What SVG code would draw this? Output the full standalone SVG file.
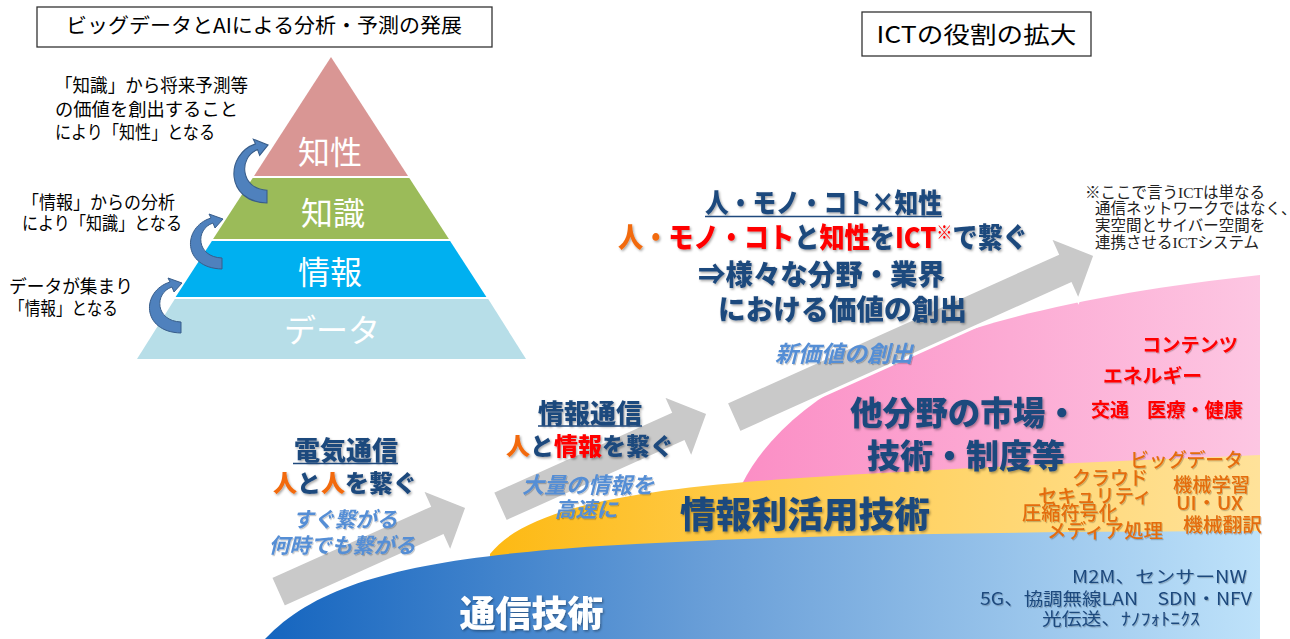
<svg xmlns="http://www.w3.org/2000/svg" width="1290" height="639" viewBox="0 0 1290 639">
<defs>
<linearGradient id="gBlue" gradientUnits="userSpaceOnUse" x1="265" y1="0" x2="1260" y2="0">
<stop offset="0" stop-color="#1565BF"/>
<stop offset="0.45" stop-color="#6A9FD8"/>
<stop offset="1" stop-color="#BEE2FA"/>
</linearGradient>
<linearGradient id="gOrange" gradientUnits="userSpaceOnUse" x1="490" y1="0" x2="1260" y2="0">
<stop offset="0" stop-color="#FDB913"/>
<stop offset="0.35" stop-color="#FFCC4D"/>
<stop offset="1" stop-color="#FFE29A"/>
</linearGradient>
<linearGradient id="gPink" gradientUnits="userSpaceOnUse" x1="742" y1="0" x2="1260" y2="0">
<stop offset="0" stop-color="#FB8EC5"/>
<stop offset="1" stop-color="#FDC6E2"/>
</linearGradient>
<filter id="sh" x="-10%" y="-30%" width="130%" height="160%">
<feDropShadow dx="1.2" dy="1.5" stdDeviation="0.8" flood-color="#000" flood-opacity="0.35"/>
</filter>
<filter id="sh2" x="-10%" y="-30%" width="130%" height="160%">
<feDropShadow dx="1" dy="1.2" stdDeviation="0.7" flood-color="#000" flood-opacity="0.22"/>
</filter>
<path id="curl" d="M 0,0 C -40,-1 -40,-42 -11,-51 L -13,-55 L 1,-50 L -7,-41 L -9,-46 C -27,-40 -26,-12 0,-11 Z"/>
</defs>
<style>
text{font-family:"Noto Sans CJK JP","Noto Sans",sans-serif}
.h{font-weight:900;fill:#1F497D}
.o{fill:#F26A10}
.r{fill:#FF0000}
.it{font-style:italic;font-weight:700;fill:#558ED5}
.pyr{fill:#fff;font-size:32px;text-anchor:middle}
.side{font-size:18.5px;fill:#000}
.red{font-size:19px;font-weight:700;fill:#FF0000}
.org{font-size:19px;font-weight:500;fill:#E46C0A}
.blu{font-size:17.5px;font-weight:400;fill:#1F497D}
.note{font-family:"Liberation Serif","Noto Sans CJK JP",serif;font-size:15.5px;fill:#222}
.gray{fill:#C9C9C9;stroke:#fff;stroke-width:3}
.curl{fill:#4F81BD;stroke:#385D8A;stroke-width:1}
.box{fill:#fff;stroke:#333;stroke-width:1.3}
.ul{stroke:#1F497D;stroke-width:1.6}
</style>
<rect x="0" y="0" width="1290" height="639" fill="#fff"/>

<g id="title-left">
<rect class="box" x="37" y="7" width="455" height="40"/>
<text x="264" y="33" font-size="20.5" text-anchor="middle" fill="#000" textLength="396" lengthAdjust="spacingAndGlyphs">ビッグデータとAIによる分析・予測の発展</text>
</g>
<g id="title-right">
<rect class="box" x="862" y="12" width="229" height="44"/>
<text x="976.5" y="43" font-size="23" text-anchor="middle" fill="#000" textLength="200" lengthAdjust="spacingAndGlyphs">ICTの役割の拡大</text>
</g>

<g id="pyramid">
<g id="layer-chisei">
<polygon points="331,57 408,176 254,176" fill="#D99694"/>
<text class="pyr" x="330" y="164">知性</text>
</g>
<g id="layer-chishiki">
<polygon points="252.7,178 409.3,178 448.9,239 213.1,239" fill="#9BBB59"/>
<text class="pyr" x="333" y="225">知識</text>
</g>
<g id="layer-joho">
<polygon points="211.9,241 450.1,241 486.4,297 175.6,297" fill="#00B0F0"/>
<text class="pyr" x="330" y="284">情報</text>
</g>
<g id="layer-data">
<polygon points="174.8,299 488.2,299 526,359 137,359" fill="#B7DEE8"/>
<text class="pyr" x="332" y="342">データ</text>
</g>
</g>

<g id="side-notes">
<g id="note-chisei">
<text class="side" x="55" y="91.5" textLength="193" lengthAdjust="spacingAndGlyphs">「知識」から将来予測等</text>
<text class="side" x="55" y="115.5" textLength="183" lengthAdjust="spacingAndGlyphs">の価値を創出すること</text>
<text class="side" x="55" y="138.5" textLength="160" lengthAdjust="spacingAndGlyphs">により「知性」となる</text>
</g>
<g id="note-chishiki">
<text class="side" x="22" y="208.5" textLength="153" lengthAdjust="spacingAndGlyphs">「情報」からの分析</text>
<text class="side" x="22" y="229.5" textLength="160" lengthAdjust="spacingAndGlyphs">により「知識」となる</text>
</g>
<g id="note-joho">
<text class="side" x="9" y="293" textLength="124" lengthAdjust="spacingAndGlyphs">データが集まり</text>
<text class="side" x="9" y="314.5" textLength="109" lengthAdjust="spacingAndGlyphs">「情報」となる</text>
</g>
</g>

<g id="areas">
<path id="area-pink" d="M 742,484 C 800,370 980,305 1260,275 L 1260,639 L 742,639 Z" fill="url(#gPink)"/>
<path id="area-orange" d="M 490,554 C 525,510 620,490 800,478 C 950,468 1100,462 1260,455 L 1260,639 L 490,639 Z" fill="url(#gOrange)"/>
<path id="area-blue" d="M 265,639 C 320,580 420,558 600,546 C 800,534 1000,532 1260,531 L 1260,639 Z" fill="url(#gBlue)"/>
</g>

<g id="connectors">
<use href="#curl" class="curl" transform="translate(181,333)"/>
<use href="#curl" class="curl" transform="translate(222,269)"/>
<use href="#curl" class="curl" transform="translate(267,203) scale(1.05,1.16)"/>
<polygon class="gray" transform="translate(467,507) rotate(-24.2)" points="0,0 -34,-35 -34,-16.5 -208,-16.5 -208,16.5 -34,16.5 -34,35"/>
<polygon class="gray" transform="translate(708,413) rotate(-24.2)" points="0,0 -34,-35 -34,-16.5 -229,-16.5 -229,16.5 -34,16.5 -34,35"/>
<polygon class="gray" transform="translate(1095,255) rotate(-24.2)" points="0,0 -34,-35 -34,-16.5 -397,-16.5 -397,16.5 -34,16.5 -34,35"/>
</g>

<g id="stage-denki">
<text class="h" x="346" y="460" font-size="26" text-anchor="middle" filter="url(#sh)">電気通信</text>
<line class="ul" x1="293" y1="463.5" x2="398" y2="463.5"/>
<text class="h" x="345" y="492" font-size="24" text-anchor="middle" filter="url(#sh)"><tspan class="o">人</tspan>と<tspan class="o">人</tspan>を繋ぐ</text>
<text class="it" x="345" y="527" font-size="21" text-anchor="middle" filter="url(#sh2)">すぐ繋がる</text>
<text class="it" x="342" y="553" font-size="21" text-anchor="middle" filter="url(#sh2)">何時でも繋がる</text>
</g>

<g id="stage-joho">
<text class="h" x="590" y="423" font-size="26" text-anchor="middle" filter="url(#sh)">情報通信</text>
<line class="ul" x1="538" y1="426" x2="642" y2="426"/>
<text class="h" x="590" y="455" font-size="24" text-anchor="middle" filter="url(#sh)"><tspan class="o">人</tspan>と<tspan class="r">情報</tspan>を繋ぐ</text>
<text class="it" x="588" y="493" font-size="22" text-anchor="middle" filter="url(#sh2)">大量の情報を</text>
<text class="it" x="586" y="517" font-size="21" text-anchor="middle" filter="url(#sh2)">高速に</text>
</g>

<g id="stage-ict">
<text class="h" x="823.5" y="213" font-size="27" text-anchor="middle" textLength="237" lengthAdjust="spacingAndGlyphs" filter="url(#sh)">人・モノ・コト×知性</text>
<line class="ul" x1="705" y1="216.5" x2="942" y2="216.5"/>
<text class="h" x="823" y="248" font-size="28" text-anchor="middle" textLength="410" lengthAdjust="spacingAndGlyphs" filter="url(#sh)"><tspan class="o">人・</tspan><tspan class="r">モノ・コト</tspan>と<tspan class="r">知性</tspan>を<tspan class="r">ICT</tspan><tspan class="r" font-size="18" dy="-9">※</tspan><tspan dy="9">で繋ぐ</tspan></text>
<text class="h" x="821.5" y="285" font-size="28" text-anchor="middle" textLength="247" lengthAdjust="spacingAndGlyphs" filter="url(#sh)">⇒様々な分野・業界</text>
<text class="h" x="842.5" y="320" font-size="28" text-anchor="middle" textLength="249" lengthAdjust="spacingAndGlyphs" filter="url(#sh)">における価値の創出</text>
<text class="it" x="844" y="362" font-size="23" text-anchor="middle" filter="url(#sh2)">新価値の創出</text>
</g>

<g id="ict-note">
<text class="note" x="1085" y="197.5">※ここで言うICTは単なる</text>
<text class="note" x="1095" y="213.5">通信ネットワークではなく、</text>
<text class="note" x="1095" y="230.5">実空間とサイバー空間を</text>
<text class="note" x="1095" y="247.5">連携させるICTシステム</text>
</g>

<g id="field-other">
<text class="h" x="850" y="425" font-size="33" textLength="228" lengthAdjust="spacingAndGlyphs" filter="url(#sh)">他分野の市場・</text>
<text class="h" x="867" y="468" font-size="33" textLength="198" lengthAdjust="spacingAndGlyphs" filter="url(#sh)">技術・制度等</text>
<text class="red" x="1142" y="352" textLength="96" lengthAdjust="spacingAndGlyphs" filter="url(#sh2)">コンテンツ</text>
<text class="red" x="1103" y="383" textLength="99" lengthAdjust="spacingAndGlyphs" filter="url(#sh2)">エネルギー</text>
<text class="red" x="1091" y="417" filter="url(#sh2)">交通</text>
<text class="red" x="1147" y="417" textLength="96" lengthAdjust="spacingAndGlyphs" filter="url(#sh2)">医療・健康</text>
</g>

<g id="field-info">
<text class="h" x="680" y="528" font-size="36" textLength="250" lengthAdjust="spacingAndGlyphs" filter="url(#sh)">情報利活用技術</text>
<text class="org" x="1130" y="467" textLength="113" lengthAdjust="spacingAndGlyphs" filter="url(#sh2)">ビッグデータ</text>
<text class="org" x="1072" y="485" textLength="76" lengthAdjust="spacingAndGlyphs" filter="url(#sh2)">クラウド</text>
<text class="org" x="1038" y="503" textLength="114" lengthAdjust="spacingAndGlyphs" filter="url(#sh2)">セキュリティ</text>
<text class="org" x="1022" y="520" textLength="96" lengthAdjust="spacingAndGlyphs" filter="url(#sh2)">圧縮符号化</text>
<text class="org" x="1047" y="538" textLength="116" lengthAdjust="spacingAndGlyphs" filter="url(#sh2)">メディア処理</text>
<text class="org" x="1173" y="492" textLength="77" lengthAdjust="spacingAndGlyphs" filter="url(#sh2)">機械学習</text>
<text class="org" x="1176" y="510" textLength="67" lengthAdjust="spacingAndGlyphs" filter="url(#sh2)">UI・UX</text>
<text class="org" x="1183" y="532" textLength="79" lengthAdjust="spacingAndGlyphs" filter="url(#sh2)">機械翻訳</text>
</g>

<g id="field-comm">
<text x="531.5" y="627" font-size="36" font-weight="900" fill="#fff" text-anchor="middle" filter="url(#sh)">通信技術</text>
<text class="blu" x="1072" y="583" textLength="175" lengthAdjust="spacingAndGlyphs" filter="url(#sh2)">M2M、センサーNW</text>
<text class="blu" x="980" y="605" textLength="272" lengthAdjust="spacingAndGlyphs" filter="url(#sh2)">5G、協調無線LAN　SDN・NFV</text>
<text class="blu" x="1042" y="625" textLength="158" lengthAdjust="spacingAndGlyphs" filter="url(#sh2)">光伝送、ﾅﾉﾌｫﾄﾆｸｽ</text>
</g>
</svg>
